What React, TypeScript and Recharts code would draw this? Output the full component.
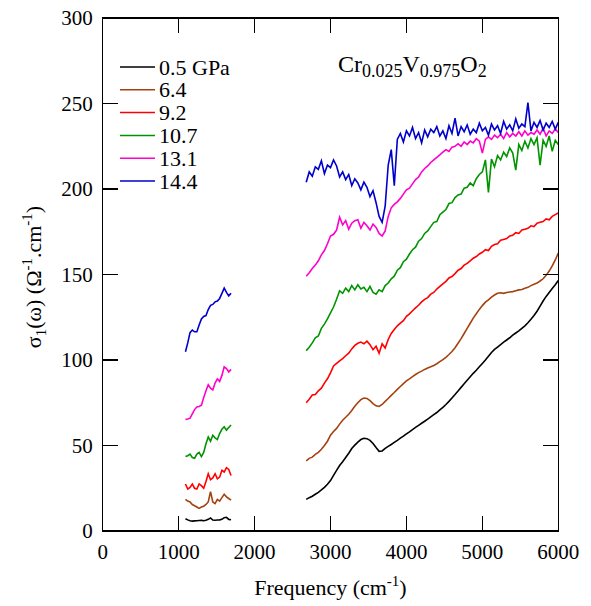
import { LineChart, Line, XAxis, YAxis } from 'recharts';

// frequency grids (cm-1)
const lowFreq = [1090, 1120, 1150, 1180, 1210, 1240, 1270, 1300, 1330, 1360, 1390, 1420, 1450, 1480, 1510, 1540, 1570, 1600, 1630, 1660, 1690];
const highFreq = [
  2680, 2720, 2760, 2800, 2840, 2880, 2920, 2960, 3000, 3040,
  3080, 3120, 3160, 3200, 3240, 3280, 3320, 3360, 3400, 3440,
  3480, 3520, 3560, 3600, 3640, 3680, 3720, 3760, 3800, 3840,
  3880, 3920, 3960, 4000, 4040, 4080, 4120, 4160, 4200, 4240,
  4280, 4320, 4360, 4400, 4440, 4480, 4520, 4560, 4600, 4640,
  4680, 4720, 4760, 4800, 4840, 4880, 4920, 4960, 5000, 5040,
  5080, 5120, 5160, 5200, 5240, 5280, 5320, 5360, 5400, 5440,
  5480, 5520, 5560, 5600, 5640, 5680, 5720, 5760, 5800, 5840,
  5880, 5920, 5960, 6000,
];

const pressures = ['0.5 GPa', '6.4', '9.2', '10.7', '13.1', '14.4'];
const colors = ['#000000', '#a3420f', '#ff0000', '#009400', '#ff00cc', '#0000cc'];

const xTicks = [0, 1000, 2000, 3000, 4000, 5000, 6000];
const yTicks = [0, 50, 100, 150, 200, 250, 300];

// sigma_1 values, low-frequency window
const lowP05 = [7.2, 6.5, 6.0, 5.8, 5.9, 6.0, 6.1, 6.2, 6.0, 6.3, 6.8, 7.6, 6.4, 6.3, 6.4, 6.5, 6.8, 7.8, 8.0, 6.8, 6.6];
const lowP64 = [18.5, 17.5, 17.0, 15.5, 14.8, 14.0, 13.2, 14.0, 14.5, 15.5, 17.0, 23.0, 17.0, 16.0, 18.5, 17.5, 19.5, 21.5, 20.0, 19.0, 18.0];
const lowP92 = [27.5, 24.5, 25.5, 27.5, 25.0, 24.5, 27.5, 26.5, 25.0, 29.0, 33.5, 30.0, 31.0, 33.5, 30.5, 31.5, 35.5, 34.5, 37.0, 36.0, 32.5];
const lowP107 = [43.5, 44.0, 45.0, 43.0, 42.5, 45.0, 46.0, 43.5, 46.0, 51.0, 55.0, 52.5, 56.0, 54.5, 53.5, 57.0, 59.5, 61.0, 59.0, 60.5, 62.0];
const lowP131 = [65.3, 65.5, 66.0, 68.5, 71.0, 72.5, 72.8, 73.5, 78.0, 82.0, 85.5, 83.5, 82.5, 86.5, 89.0, 87.5, 91.0, 96.0, 95.0, 93.0, 94.5];
const lowP144 = [104.8, 110.0, 116.0, 117.5, 116.5, 116.5, 120.5, 124.0, 125.5, 126.0, 129.5, 132.0, 132.5, 134.0, 134.5, 136.0, 139.0, 142.0, 139.5, 137.5, 139.0];

// sigma_1 values, mid-infrared window
const highP05 = [
  18.5, 19.5, 20.3, 21.5, 22.6, 24.0, 25.5, 27.3, 29.5, 32.5,
  35.5, 38.3, 40.5, 43.0, 45.5, 48.2, 50.2, 52.0, 53.5, 54.2,
  54.0, 53.0, 51.2, 48.8, 46.6, 46.8, 48.3, 49.5, 50.6, 51.8,
  53.0, 54.3, 55.5, 56.8, 58.0, 59.3, 60.6, 61.8, 63.0, 64.2,
  65.4, 66.7, 68.0, 69.3, 70.8, 72.3, 74.0, 75.8, 77.8, 79.8,
  81.9, 84.0, 86.1, 88.2, 90.2, 92.2, 94.0, 96.0, 98.0, 100.0,
  102.2, 104.4, 106.2, 107.6, 109.0, 110.4, 111.7, 113.0, 114.5, 115.8,
  117.0, 118.5, 120.0, 121.8, 123.8, 126.0, 128.5, 131.5, 134.5, 137.2,
  139.5, 141.8, 144.0, 146.5,
];
const highP64 = [
  41.0, 42.5, 43.2, 44.8, 46.0, 47.8, 50.0, 52.5, 56.0, 58.2,
  60.0, 62.5, 64.8, 66.5, 68.3, 70.5, 73.0, 75.0, 76.8, 77.8,
  77.5, 76.2, 74.5, 73.2, 72.8, 74.0, 75.8, 77.5, 79.3, 81.0,
  82.8, 84.5, 86.2, 87.8, 89.0, 90.3, 91.5, 92.6, 93.5, 94.5,
  95.3, 96.0, 96.8, 97.8, 99.0, 100.2, 101.6, 103.2, 105.0, 107.2,
  109.8, 112.5, 115.5, 118.5, 121.5, 124.5, 127.0, 129.6, 131.8, 133.8,
  135.2, 136.8, 138.0, 139.0, 139.3, 139.0, 139.5, 139.8, 140.0, 140.5,
  141.0, 141.2, 142.0, 142.5, 143.5, 144.3, 145.0, 146.2, 147.5, 149.5,
  152.0, 155.0, 158.5, 162.5,
];
const highP92 = [
  75.0, 77.0, 79.5, 79.8, 82.0, 83.5, 86.5, 89.0, 92.5, 96.5,
  98.0, 99.5, 100.8, 102.5, 104.0, 106.5, 108.5, 109.8, 110.5, 109.5,
  111.0, 109.0, 106.0, 108.0, 104.0, 109.5, 107.0, 112.0, 115.5, 117.8,
  120.0, 121.5, 123.0, 125.5, 127.0, 128.8, 130.5, 132.0, 134.0, 135.5,
  136.5, 138.5, 139.5, 141.5, 143.0, 144.5, 146.0, 148.0, 148.8, 150.5,
  152.5, 153.5, 155.5, 156.5, 158.0, 159.5, 160.5, 162.0, 163.0, 164.5,
  164.0, 166.5, 167.5, 168.0, 170.0, 170.5, 171.0, 172.5, 173.0, 174.5,
  174.0, 176.0, 176.5, 177.0, 178.5, 178.0, 180.0, 180.5, 181.0, 182.5,
  182.0, 184.0, 185.0, 186.0,
];
const highP107 = [
  105.5, 107.5, 110.0, 113.0, 114.0, 118.5, 121.0, 124.0, 127.5, 131.0,
  135.5, 140.5, 139.0, 142.0, 140.0, 143.5, 141.0, 144.0, 141.5, 142.5,
  140.0, 143.0, 139.5, 138.5, 141.0, 140.0, 143.5, 145.0, 147.5, 149.0,
  152.5, 154.0, 157.5, 159.0, 162.0, 164.5, 166.0, 169.5, 171.0, 174.0,
  175.5, 178.0, 180.5, 181.0, 185.0, 186.5, 188.0, 191.5, 192.0, 195.0,
  196.5, 197.0, 200.5, 201.0, 203.5, 202.0, 206.0, 208.5, 210.0, 217.0,
  198.0, 217.5, 213.0, 219.5, 217.0, 221.5, 219.0, 224.0, 221.0, 211.0,
  226.0, 222.5, 228.0, 224.0, 229.5, 226.0, 230.0, 214.0, 228.5, 225.0,
  231.0, 222.0, 228.5, 226.0,
];
const highP131 = [
  149.0, 151.0, 153.5, 155.5, 158.0, 161.5, 164.0, 168.0, 172.5, 173.5,
  176.0, 183.5, 179.0, 181.5, 176.5, 180.0, 181.5, 182.0, 177.0, 180.5,
  178.5, 176.0, 179.5, 177.5, 174.0, 172.5, 175.5, 184.0, 189.0, 191.0,
  192.5, 194.5, 197.0, 199.5, 200.5, 203.0, 205.5, 207.0, 210.0, 212.0,
  213.5, 215.5, 217.0, 218.5, 220.0, 221.5, 223.0, 222.0, 224.5, 225.0,
  226.5, 225.0, 227.5, 226.0, 228.0, 227.0, 229.5, 228.0, 221.0, 229.0,
  230.5, 229.0, 231.5, 230.0, 232.0, 229.5, 233.0, 230.5, 232.5, 231.0,
  233.5, 231.0, 234.0, 231.5, 233.0, 232.0, 234.5, 232.0, 235.5, 231.0,
  234.0, 232.5, 235.0, 233.0,
];
const highP144 = [
  204.0, 210.0, 207.5, 213.0, 211.5, 216.5, 209.0, 214.0, 212.5, 217.0,
  213.5, 207.0, 210.0, 205.5, 208.5, 202.0, 206.0, 203.5, 199.5, 204.0,
  201.0, 195.5, 199.0, 192.0, 184.0, 180.5, 190.0, 214.0, 223.0, 202.0,
  229.0, 232.5, 227.5, 234.0, 231.0, 236.0, 229.5, 233.0, 227.0, 234.5,
  230.5, 235.0, 233.0, 236.5, 231.0, 234.0, 229.5, 237.0, 232.5, 241.5,
  231.0, 236.5, 233.5, 237.5, 232.0, 235.0, 233.0, 238.5, 234.0, 236.0,
  231.5, 238.0, 234.5, 237.0, 232.5, 239.5, 235.0, 237.5, 234.0, 241.0,
  235.5, 238.0, 236.5, 250.5, 234.0, 239.0, 236.0, 240.0, 234.5, 238.5,
  236.0, 239.5, 235.0, 239.0,
];

const lowSets = [lowP05, lowP64, lowP92, lowP107, lowP131, lowP144];
const highSets = [highP05, highP64, highP92, highP107, highP131, highP144];

// one line per pressure, with a gap between the two spectral windows
const toPoints = (low: number[], high: number[]) => [
  ...lowFreq.map((f, i) => ({ f, v: low[i] as number | null })),
  { f: 2200, v: null },
  ...highFreq.map((f, i) => ({ f, v: high[i] as number | null })),
];

const serif = 'Liberation Serif';
const BLACK = '#000000';
const W = 591;
const H = 606;
const M = { top: 17, right: 31.7, bottom: 35, left: 42.7 };
const X_AXIS_H = 40;
const Y_AXIS_W = 60;
// plot box implied by the margins and axis sizes above
const plotL = M.left + Y_AXIS_W;
const plotR = W - M.right - 1;
const plotT = M.top + 1;
const plotB = H - M.bottom - X_AXIS_H;
const TICK = 15;
const LW = 1.5;

const tickFont = { fontFamily: serif, fontSize: 21, fill: BLACK };

// frame with inward ticks on all four sides, as plain boxes
const Frame = () => {
  const sx = (v: number) => plotL + (v / 6000) * (plotR - plotL);
  const sy = (v: number) => plotB - (v / 300) * (plotB - plotT);
  const bar = (left: number, top: number, width: number, height: number, key: string) => (
    <div key={key} style={{ position: 'absolute', left, top, width, height, background: BLACK }} />
  );
  return (
    <div style={{ position: 'absolute', left: 0, top: 0, width: W, height: H, pointerEvents: 'none' }}>
      {bar(plotL - LW / 2, plotT - LW / 2, plotR - plotL + LW, LW, 'top')}
      {bar(plotL - LW / 2, plotB - LW / 2, plotR - plotL + LW, LW, 'bottom')}
      {bar(plotL - LW / 2, plotT - LW / 2, LW, plotB - plotT + LW, 'left')}
      {bar(plotR - LW / 2, plotT - LW / 2, LW, plotB - plotT + LW, 'right')}
      {xTicks.map((t) => bar(sx(t) - LW / 2, plotB - TICK, LW, TICK, `xb${t}`))}
      {xTicks.map((t) => bar(sx(t) - LW / 2, plotT, LW, TICK, `xt${t}`))}
      {yTicks.map((t) => bar(plotL, sy(t) - LW / 2, TICK, LW, `yl${t}`))}
      {yTicks.map((t) => bar(plotR - TICK, sy(t) - LW / 2, TICK, LW, `yr${t}`))}
    </div>
  );
};

export default function App() {
  return (
    <div style={{ position: 'absolute', left: 0, top: 0, width: W, height: H, fontFamily: serif }}>
      <LineChart width={W} height={H} margin={M}>
        <XAxis
          dataKey="f"
          type="number"
          domain={[0, 6000]}
          ticks={xTicks}
          interval={0}
          height={X_AXIS_H}
          axisLine={false}
          tickLine={false}
          tickSize={-15}
          tickMargin={28}
          tick={tickFont}
        />
        <XAxis
          xAxisId="top"
          orientation="top"
          type="number"
          domain={[0, 6000]}
          ticks={xTicks}
          height={1}
          axisLine={false}
          tickLine={false}
          tick={false}
        />
        <YAxis
          type="number"
          domain={[0, 300]}
          ticks={yTicks}
          interval={0}
          width={Y_AXIS_W}
          axisLine={false}
          tickLine={false}
          tickSize={-15}
          tickMargin={25}
          tick={tickFont}
        />
        <YAxis
          yAxisId="right"
          orientation="right"
          type="number"
          domain={[0, 300]}
          ticks={yTicks}
          width={1}
          axisLine={false}
          tickLine={false}
          tick={false}
        />
        {pressures.map((p, i) => (
          <Line
            key={p}
            name={p}
            data={toPoints(lowSets[i], highSets[i])}
            dataKey="v"
            type="linear"
            stroke={colors[i]}
            strokeWidth={1.6}
            dot={false}
            connectNulls={false}
            isAnimationActive={false}
          />
        ))}
      </LineChart>

      <Frame />

      {/* legend, formula and axis titles */}
      <svg
        width={W}
        height={H}
        style={{ position: 'absolute', left: 0, top: 0, pointerEvents: 'none' }}
        fontFamily={serif}
      >
        {pressures.map((p, i) => (
          <g key={p}>
            <line x1={120} x2={155} y1={67 + i * 22.8} y2={67 + i * 22.8} stroke={colors[i]} strokeWidth={1.5} />
            <text x={159} y={67 + i * 22.8 + 7.5} fontSize={22} fill={BLACK}>{p}</text>
          </g>
        ))}
        <text x={338} y={71.7} fontSize={24} fill={BLACK}>
          Cr<tspan fontSize={18} dy={5}>0.025</tspan>
          <tspan dy={-5}>V</tspan>
          <tspan fontSize={18} dy={5}>0.975</tspan>
          <tspan dy={-5}>O</tspan>
          <tspan fontSize={18} dy={5}>2</tspan>
        </text>
        <text x={330.5} y={595} fontSize={22} textAnchor="middle" fill={BLACK}>
          Frequency (cm<tspan fontSize={15} dy={-9}>-1</tspan><tspan dy={9}>)</tspan>
        </text>
        <text transform="translate(41,277) rotate(-90)" fontSize={22} textAnchor="middle" fill={BLACK}>
          σ<tspan fontSize={15} dy={5}>1</tspan>
          <tspan dy={-5}>(ω) (Ω</tspan>
          <tspan fontSize={15} dy={-9}>-1</tspan>
          <tspan dy={9}>.cm</tspan>
          <tspan fontSize={15} dy={-9}>-1</tspan>
          <tspan dy={9}>)</tspan>
        </text>
      </svg>
    </div>
  );
}
